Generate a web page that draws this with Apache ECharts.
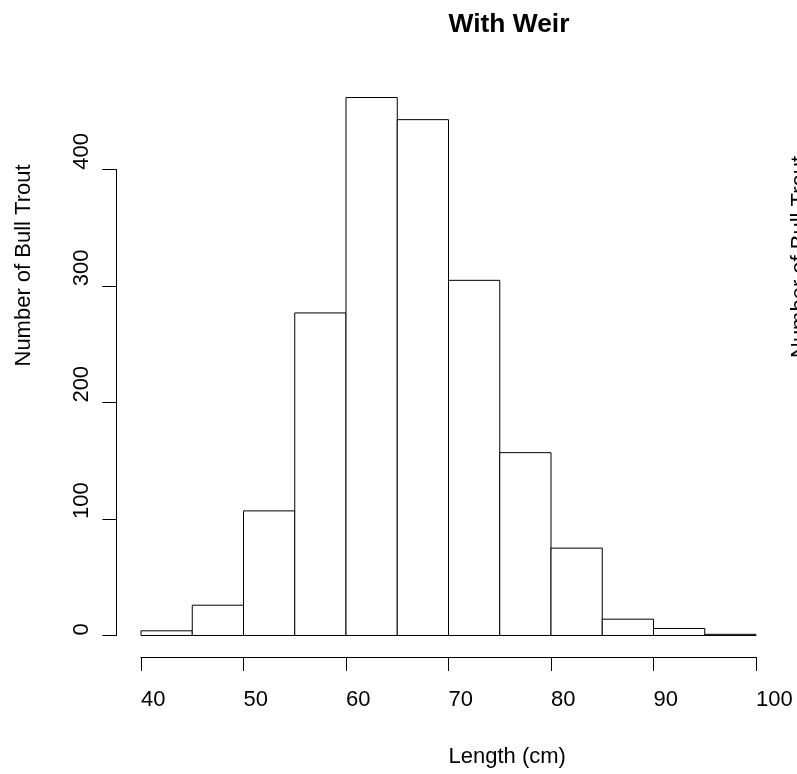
<!DOCTYPE html>
<html lang="en">
<head>
<meta charset="UTF-8">
<title>With Weir</title>
<style>
  html, body { margin: 0; padding: 0; background: #fff; }
  #main { width: 797px; height: 774px; }
</style>
</head>
<body>
<div id="main"></div>
<script src="https://cdn.jsdelivr.net/npm/echarts@6/dist/echarts.min.js"></script>
<script>
// histogram breaks and counts
var breaks = [40, 45, 50, 55, 60, 65, 70, 75, 80, 85, 90, 95, 100];
var counts = [4, 26, 107, 277, 462, 443, 305, 157, 75, 14, 6, 1];
var xTicks = [40, 50, 60, 70, 80, 90, 100];
var yTicks = [0, 100, 200, 300, 400];

var font = '"Liberation Sans", Arial, Helvetica, sans-serif';
var fs = 22;
var W = 797, H = 774;

// plot region in px
var plotL = 116.4, plotR = 780.6, plotT = 76, plotB = 657;

// limits extended by 4% like R does
var xlo = breaks[0], xhi = breaks[breaks.length - 1];
var ytop = Math.max.apply(null, counts);
var xmin = xlo - (xhi - xlo) * 0.04, xmax = xhi + (xhi - xlo) * 0.04;
var ymin = -ytop * 0.04, ymax = ytop * 1.04;

function px(v) { return plotL + (v - xmin) / (xmax - xmin) * (plotR - plotL); }
function py(v) { return plotB - (v - ymin) / (ymax - ymin) * (plotB - plotT); }

var bins = counts.map(function (c, i) { return [breaks[i], breaks[i + 1], c]; });

var x0 = xTicks[0], x1 = xTicks[xTicks.length - 1];
var y0 = yTicks[0], y1 = yTicks[yTicks.length - 1];

var axisStyle = { show: true, onZero: false, lineStyle: { color: '#000', width: 1 } };
var tickStyle = { show: true, length: 14, inside: false, lineStyle: { color: '#000', width: 1 } };

var myChart = echarts.init(document.getElementById('main'), null, { renderer: 'canvas' });

var option = {
    backgroundColor: '#fff',
    animation: false,
    textStyle: { fontFamily: font },
    grid: [
        { left: plotL, right: W - plotR, top: plotT, bottom: H - plotB },
        { left: px(x0), right: W - px(x1), top: py(y1), bottom: H - py(y0) }
    ],
    xAxis: [
        { type: 'value', gridIndex: 0, min: xmin, max: xmax, show: false },
        {
            type: 'value', gridIndex: 1, min: x0, max: x1, interval: 10,
            position: 'bottom', offset: plotB - py(y0),
            axisLine: axisStyle, axisTick: tickStyle, splitLine: { show: false },
            axisLabel: {
                margin: 43, align: 'left', verticalAlign: 'middle',
                color: '#000', fontSize: fs, fontFamily: font,
                showMinLabel: true, showMaxLabel: true
            }
        }
    ],
    yAxis: [
        { type: 'value', gridIndex: 0, min: ymin, max: ymax, show: false },
        {
            type: 'value', gridIndex: 1, min: y0, max: y1, interval: 100,
            position: 'left', offset: px(x0) - plotL,
            axisLine: axisStyle, axisTick: tickStyle, splitLine: { show: false },
            axisLabel: {
                rotate: 90, margin: 34, align: 'left', verticalAlign: 'middle',
                color: '#000', fontSize: fs, fontFamily: font,
                showMinLabel: true, showMaxLabel: true
            }
        }
    ],
    series: [
        {
            type: 'custom',
            xAxisIndex: 0, yAxisIndex: 0,
            data: bins,
            renderItem: function (params, api) {
                var a = api.coord([api.value(0), api.value(2)]);
                var b = api.coord([api.value(1), 0]);
                return {
                    type: 'rect',
                    shape: { x: a[0], y: a[1], width: b[0] - a[0], height: b[1] - a[1] },
                    style: { fill: '#fff', stroke: '#000', lineWidth: 1 }
                };
            }
        }
    ],
    graphic: [
        {
            type: 'text', x: (plotL + plotR) / 2, y: 25,
            style: { text: 'With Weir', font: 'bold ' + (fs * 1.2) + 'px ' + font, fill: '#000', align: 'left', verticalAlign: 'middle' }
        },
        {
            type: 'text', x: (plotL + plotR) / 2, y: 757,
            style: { text: 'Length (cm)', font: fs + 'px ' + font, fill: '#000', align: 'left', verticalAlign: 'middle' }
        },
        {
            type: 'text', x: 24, y: (plotT + plotB) / 2, rotation: Math.PI / 2,
            style: { text: 'Number of Bull Trout', font: fs + 'px ' + font, fill: '#000', align: 'left', verticalAlign: 'middle' }
        },
        {
            // y label of the neighbouring panel, cut off at the edge
            type: 'text', x: 800, y: 358, rotation: Math.PI / 2,
            style: { text: 'Number of Bull Trout', font: fs + 'px ' + font, fill: '#000', align: 'left', verticalAlign: 'middle' }
        }
    ]
};
myChart.setOption(option);
</script>
</body>
</html>
